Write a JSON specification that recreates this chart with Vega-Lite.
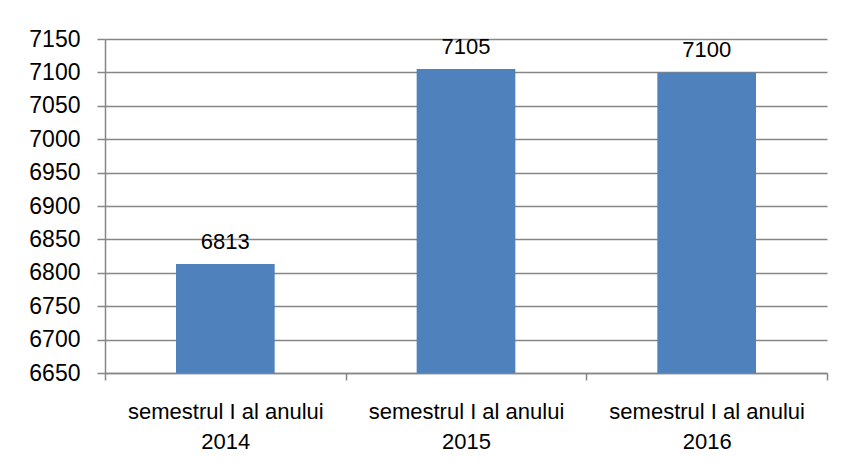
{
  "$schema": "https://vega.github.io/schema/vega-lite/v6.json",
  "autosize": {"type": "none"},
  "width": 722,
  "height": 334,
  "padding": {"left": 105, "top": 39, "right": 17, "bottom": 93},
  "background": "white",
  "data": {
    "values": [
      {"perioada": "semestrul I al anului|2014", "valoare": 6813},
      {"perioada": "semestrul I al anului|2015", "valoare": 7105},
      {"perioada": "semestrul I al anului|2016", "valoare": 7100}
    ]
  },
  "encoding": {
    "x": {
      "field": "perioada",
      "type": "nominal",
      "sort": null,
      "scale": {"paddingInner": 0, "paddingOuter": 0},
      "axis": {
        "title": null,
        "labelAngle": 0,
        "labelExpr": "split(datum.label, '|')",
        "labelFont": "Liberation Sans",
        "labelFontSize": 22,
        "labelColor": "#000000",
        "labelLineHeight": 30,
        "labelPadding": 21,
        "labelBaseline": "top",
        "labelLimit": 0,
        "labelOverlap": false,
        "tickBand": "extent",
        "ticks": true,
        "tickSize": 7,
        "tickColor": "#868686",
        "tickWidth": 1.5,
        "domainColor": "#868686",
        "domainWidth": 1.5,
        "grid": false
      }
    },
    "y": {
      "field": "valoare",
      "type": "quantitative",
      "scale": {"domain": [6650, 7150], "nice": false, "zero": false},
      "axis": {
        "title": null,
        "format": "d",
        "values": [6650, 6700, 6750, 6800, 6850, 6900, 6950, 7000, 7050, 7100, 7150],
        "labelFont": "Liberation Sans",
        "labelFontSize": 23,
        "labelColor": "#000000",
        "labelPadding": 17,
        "tickSize": 8,
        "tickColor": "#868686",
        "tickWidth": 1.5,
        "domainColor": "#868686",
        "domainWidth": 1.5,
        "gridColor": "#868686",
        "gridWidth": 1.5
      }
    }
  },
  "layer": [
    {
      "mark": {"type": "bar", "color": "#4F81BD", "width": {"band": 0.41}, "clip": true}
    },
    {
      "mark": {
        "type": "text",
        "font": "Liberation Sans",
        "fontSize": 22,
        "color": "#000000",
        "baseline": "alphabetic",
        "dy": -15
      },
      "encoding": {"text": {"field": "valoare", "type": "quantitative", "format": "d"}}
    }
  ],
  "config": {"view": {"stroke": null}}
}
